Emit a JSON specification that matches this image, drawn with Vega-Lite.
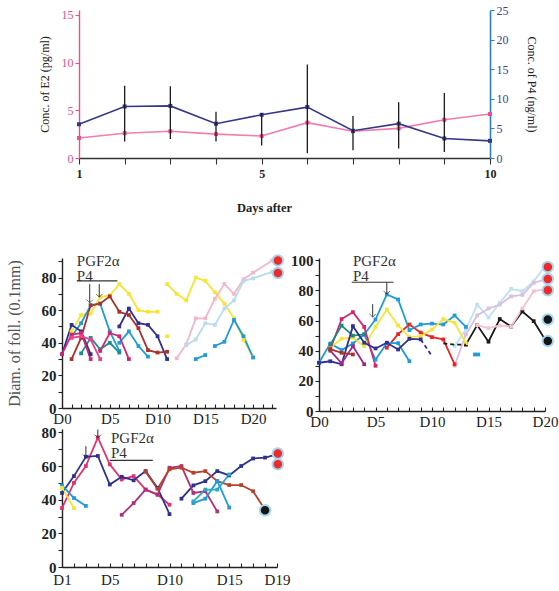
{
  "$schema": "https://vega.github.io/schema/vega-lite/v6.json",
  "background": "white",
  "padding": {"left": 5, "top": 4, "right": 2, "bottom": 2},
  "config": {
    "view": {"stroke": null},
    "font": "Liberation Serif",
    "axis": {
      "grid": false,
      "labelFont": "Liberation Serif",
      "titleFont": "Liberation Serif",
      "labelColor": "#222",
      "titleColor": "#222",
      "domainColor": "#222",
      "tickColor": "#222",
      "domainWidth": 1.4,
      "tickWidth": 1.1,
      "labelOverlap": false,
      "labelFlush": false
    }
  },
  "datasets": {
    "hormones": [
      {"day": 1, "e2": 2.1, "p4": 5.7},
      {"day": 2, "e2": 2.6, "p4": 8.7},
      {"day": 3, "e2": 2.8, "p4": 8.8},
      {"day": 4, "e2": 2.5, "p4": 5.8},
      {"day": 5, "e2": 2.3, "p4": 7.3},
      {"day": 6, "e2": 3.7, "p4": 8.6},
      {"day": 7, "e2": 2.8, "p4": 4.6},
      {"day": 8, "e2": 3.1, "p4": 5.8},
      {"day": 9, "e2": 4.0, "p4": 3.3},
      {"day": 10, "e2": 4.6, "p4": 2.9}
    ],
    "p4err": [
      {"day": 2, "lo": 2.8, "hi": 12.2},
      {"day": 3, "lo": 3.2, "hi": 12.1},
      {"day": 4, "lo": 2.8, "hi": 7.8},
      {"day": 5, "lo": 2.1, "hi": 7.6},
      {"day": 6, "lo": 0.8, "hi": 15.8},
      {"day": 7, "lo": 1.3, "hi": 7.1},
      {"day": 8, "lo": 1.6, "hi": 9.4},
      {"day": 9, "lo": 1.0, "hi": 11.0}
    ],
    "follA": [
      {"f": "A1", "w": "A1a", "day": 1, "mm": 47}, {"f": "A1", "w": "A1a", "day": 2, "mm": 57}, {"f": "A1", "w": "A1a", "day": 3, "mm": 58}, {"f": "A1", "w": "A1a", "day": 4, "mm": 68}, {"f": "A1", "w": "A1a", "day": 5, "mm": 69}, {"f": "A1", "w": "A1a", "day": 6, "mm": 76}, {"f": "A1", "w": "A1a", "day": 7, "mm": 70}, {"f": "A1", "w": "A1a", "day": 8, "mm": 60}, {"f": "A1", "w": "A1a", "day": 9, "mm": 59}, {"f": "A1", "w": "A1a", "day": 10, "mm": 59},
      {"f": "A1", "w": "A1b", "day": 11, "mm": 44},
      {"f": "A1", "w": "A1c", "day": 11, "mm": 76}, {"f": "A1", "w": "A1c", "day": 12, "mm": 70}, {"f": "A1", "w": "A1c", "day": 13, "mm": 66}, {"f": "A1", "w": "A1c", "day": 14, "mm": 80}, {"f": "A1", "w": "A1c", "day": 15, "mm": 78}, {"f": "A1", "w": "A1c", "day": 16, "mm": 71}, {"f": "A1", "w": "A1c", "day": 17, "mm": 64}, {"f": "A1", "w": "A1c", "day": 18, "mm": 55}, {"f": "A1", "w": "A1c", "day": 19, "mm": 42}, {"f": "A1", "w": "A1c", "day": 20, "mm": 31},
      {"f": "A2", "w": "A2a", "day": 1, "mm": 44}, {"f": "A2", "w": "A2a", "day": 2, "mm": 52}, {"f": "A2", "w": "A2a", "day": 3, "mm": 63}, {"f": "A2", "w": "A2a", "day": 4, "mm": 64}, {"f": "A2", "w": "A2a", "day": 5, "mm": 47}, {"f": "A2", "w": "A2a", "day": 6, "mm": 35},
      {"f": "A2", "w": "A2b", "day": 6, "mm": 40}, {"f": "A2", "w": "A2b", "day": 7, "mm": 47}, {"f": "A2", "w": "A2b", "day": 8, "mm": 38}, {"f": "A2", "w": "A2b", "day": 9, "mm": 31.5},
      {"f": "A2", "w": "A2c", "day": 14, "mm": 30}, {"f": "A2", "w": "A2c", "day": 15, "mm": 32.5},
      {"f": "A2", "w": "A2d", "day": 16, "mm": 38}, {"f": "A2", "w": "A2d", "day": 17, "mm": 40.6}, {"f": "A2", "w": "A2d", "day": 18, "mm": 54}, {"f": "A2", "w": "A2d", "day": 19, "mm": 44}, {"f": "A2", "w": "A2d", "day": 20, "mm": 31},
      {"f": "A3", "w": "A3a", "day": 2, "mm": 33.5}, {"f": "A3", "w": "A3a", "day": 3, "mm": 43}, {"f": "A3", "w": "A3a", "day": 4, "mm": 36}, {"f": "A3", "w": "A3a", "day": 5, "mm": 40}, {"f": "A3", "w": "A3a", "day": 6, "mm": 34},
      {"f": "A4", "w": "A4a", "day": 0, "mm": 33}, {"f": "A4", "w": "A4a", "day": 1, "mm": 51}, {"f": "A4", "w": "A4a", "day": 2, "mm": 47}, {"f": "A4", "w": "A4a", "day": 3, "mm": 33},
      {"f": "A4", "w": "A4b", "day": 6, "mm": 50}, {"f": "A4", "w": "A4b", "day": 7, "mm": 61}, {"f": "A4", "w": "A4b", "day": 8, "mm": 52}, {"f": "A4", "w": "A4b", "day": 9, "mm": 51}, {"f": "A4", "w": "A4b", "day": 10, "mm": 44}, {"f": "A4", "w": "A4b", "day": 11, "mm": 30},
      {"f": "A5", "w": "A5a", "day": 1, "mm": 30}, {"f": "A5", "w": "A5a", "day": 2, "mm": 43}, {"f": "A5", "w": "A5a", "day": 3, "mm": 63}, {"f": "A5", "w": "A5a", "day": 4, "mm": 64}, {"f": "A5", "w": "A5a", "day": 5, "mm": 68.5}, {"f": "A5", "w": "A5a", "day": 6, "mm": 59}, {"f": "A5", "w": "A5a", "day": 7, "mm": 57}, {"f": "A5", "w": "A5a", "day": 8, "mm": 49}, {"f": "A5", "w": "A5a", "day": 9, "mm": 35.5}, {"f": "A5", "w": "A5a", "day": 10, "mm": 34}, {"f": "A5", "w": "A5a", "day": 11, "mm": 34.5},
      {"f": "A6", "w": "A6a", "day": 0, "mm": 33}, {"f": "A6", "w": "A6a", "day": 1, "mm": 45}, {"f": "A6", "w": "A6a", "day": 2, "mm": 46}, {"f": "A6", "w": "A6a", "day": 3, "mm": 30},
      {"f": "A6", "w": "A6b", "day": 4, "mm": 35}, {"f": "A6", "w": "A6b", "day": 5, "mm": 46}, {"f": "A6", "w": "A6b", "day": 6, "mm": 44}, {"f": "A6", "w": "A6b", "day": 7, "mm": 30},
      {"f": "A7", "w": "A7a", "day": 1, "mm": 43}, {"f": "A7", "w": "A7a", "day": 2, "mm": 44}, {"f": "A7", "w": "A7a", "day": 3, "mm": 42}, {"f": "A7", "w": "A7a", "day": 4, "mm": 30},
      {"f": "A8", "w": "A8a", "day": 12, "mm": 30.5}, {"f": "A8", "w": "A8a", "day": 13, "mm": 39}, {"f": "A8", "w": "A8a", "day": 14, "mm": 55}, {"f": "A8", "w": "A8a", "day": 15, "mm": 55}, {"f": "A8", "w": "A8a", "day": 16, "mm": 67}, {"f": "A8", "w": "A8a", "day": 17, "mm": 76}, {"f": "A8", "w": "A8a", "day": 18, "mm": 70}, {"f": "A8", "w": "A8a", "day": 19, "mm": 79}, {"f": "A8", "w": "A8a", "day": 20, "mm": 83}, {"f": "A8", "w": "A8a", "day": 22, "mm": 90.5},
      {"f": "A9", "w": "A9a", "day": 13, "mm": 38.5}, {"f": "A9", "w": "A9a", "day": 14, "mm": 42}, {"f": "A9", "w": "A9a", "day": 15, "mm": 52}, {"f": "A9", "w": "A9a", "day": 16, "mm": 51}, {"f": "A9", "w": "A9a", "day": 17, "mm": 61}, {"f": "A9", "w": "A9a", "day": 18, "mm": 66}, {"f": "A9", "w": "A9a", "day": 19, "mm": 78}, {"f": "A9", "w": "A9a", "day": 20, "mm": 79.5}, {"f": "A9", "w": "A9a", "day": 22, "mm": 83.5}
    ],
    "fateA": [
      {"day": 22.6, "mm": 90.5, "fate": "ovulated"},
      {"day": 22.6, "mm": 82.8, "fate": "ovulated"}
    ],
    "noteA": [
      {"day": 1.55, "mm": 90.2, "note": "PGF2α"},
      {"day": 1.55, "mm": 81, "note": "P4"}
    ],
    "barA": [{"day": 1.55, "day2": 5.8, "mm": 78}],
    "arrowA": [
      {"day": 2.9, "mm": 64.5, "top": 76},
      {"day": 3.9, "mm": 68, "top": 76}
    ],
    "follB": [
      {"f": "B1", "w": "B1b", "day": 13, "mm": 44}, {"f": "B1", "w": "B1b", "day": 14, "mm": 57}, {"f": "B1", "w": "B1b", "day": 15, "mm": 46}, {"f": "B1", "w": "B1b", "day": 16, "mm": 61}, {"f": "B1", "w": "B1b", "day": 17, "mm": 56}, {"f": "B1", "w": "B1b", "day": 18, "mm": 66}, {"f": "B1", "w": "B1b", "day": 19, "mm": 59.6}, {"f": "B1", "w": "B1b", "day": 20, "mm": 47.5},
      {"f": "B2", "w": "B2a", "day": 12, "mm": 43}, {"f": "B2", "w": "B2a", "day": 13, "mm": 54}, {"f": "B2", "w": "B2a", "day": 14, "mm": 70.6}, {"f": "B2", "w": "B2a", "day": 15, "mm": 62}, {"f": "B2", "w": "B2a", "day": 16, "mm": 71.7}, {"f": "B2", "w": "B2a", "day": 17, "mm": 81}, {"f": "B2", "w": "B2a", "day": 18, "mm": 79.5}, {"f": "B2", "w": "B2a", "day": 19, "mm": 86}, {"f": "B2", "w": "B2a", "day": 20, "mm": 96},
      {"f": "B3", "w": "B3a", "day": 12, "mm": 30}, {"f": "B3", "w": "B3a", "day": 13, "mm": 50.8}, {"f": "B3", "w": "B3a", "day": 14, "mm": 63.4}, {"f": "B3", "w": "B3a", "day": 15, "mm": 68}, {"f": "B3", "w": "B3a", "day": 16, "mm": 70.6}, {"f": "B3", "w": "B3a", "day": 17, "mm": 76}, {"f": "B3", "w": "B3a", "day": 18, "mm": 77}, {"f": "B3", "w": "B3a", "day": 19, "mm": 85}, {"f": "B3", "w": "B3a", "day": 20, "mm": 87.2},
      {"f": "B4", "w": "B4a", "day": 14, "mm": 57}, {"f": "B4", "w": "B4a", "day": 15, "mm": 55}, {"f": "B4", "w": "B4a", "day": 16, "mm": 56.7}, {"f": "B4", "w": "B4a", "day": 17, "mm": 56}, {"f": "B4", "w": "B4a", "day": 18, "mm": 68}, {"f": "B4", "w": "B4a", "day": 19, "mm": 79.5}, {"f": "B4", "w": "B4a", "day": 20, "mm": 80.6},
      {"f": "B5", "w": "B5a", "day": 6, "mm": 42}, {"f": "B5", "w": "B5a", "day": 7, "mm": 51}, {"f": "B5", "w": "B5a", "day": 8, "mm": 57.4}, {"f": "B5", "w": "B5a", "day": 9, "mm": 52}, {"f": "B5", "w": "B5a", "day": 10, "mm": 49}, {"f": "B5", "w": "B5a", "day": 11, "mm": 47.5}, {"f": "B5", "w": "B5a", "day": 12, "mm": 31},
      {"f": "B6", "w": "B6a", "day": 0, "mm": 32}, {"f": "B6", "w": "B6a", "day": 1, "mm": 44.8}, {"f": "B6", "w": "B6a", "day": 2, "mm": 40.4}, {"f": "B6", "w": "B6a", "day": 3, "mm": 44.8}, {"f": "B6", "w": "B6a", "day": 4, "mm": 50.8}, {"f": "B6", "w": "B6a", "day": 5, "mm": 60.7}, {"f": "B6", "w": "B6a", "day": 6, "mm": 77.3}, {"f": "B6", "w": "B6a", "day": 7, "mm": 74}, {"f": "B6", "w": "B6a", "day": 8, "mm": 53.6}, {"f": "B6", "w": "B6a", "day": 9, "mm": 57.4}, {"f": "B6", "w": "B6a", "day": 10, "mm": 58}, {"f": "B6", "w": "B6a", "day": 11, "mm": 57.4}, {"f": "B6", "w": "B6a", "day": 12, "mm": 63.4}, {"f": "B6", "w": "B6a", "day": 13, "mm": 55.8},
      {"f": "B6", "w": "B6b", "day": 4, "mm": 50.8}, {"f": "B6", "w": "B6b", "day": 5, "mm": 34}, {"f": "B6", "w": "B6b", "day": 6, "mm": 45}, {"f": "B6", "w": "B6b", "day": 7, "mm": 45}, {"f": "B6", "w": "B6b", "day": 8, "mm": 33},
      {"f": "B6", "w": "B6c", "day": 13.8, "mm": 37.5}, {"f": "B6", "w": "B6c", "day": 14.1, "mm": 37.5},
      {"f": "B7", "w": "B7a", "day": 1, "mm": 42}, {"f": "B7", "w": "B7a", "day": 2, "mm": 48}, {"f": "B7", "w": "B7a", "day": 3, "mm": 48.6}, {"f": "B7", "w": "B7a", "day": 4, "mm": 43}, {"f": "B7", "w": "B7a", "day": 5, "mm": 55.8}, {"f": "B7", "w": "B7a", "day": 6, "mm": 67.3}, {"f": "B7", "w": "B7a", "day": 7, "mm": 56.7}, {"f": "B7", "w": "B7a", "day": 8, "mm": 49}, {"f": "B7", "w": "B7a", "day": 9, "mm": 49.7}, {"f": "B7", "w": "B7a", "day": 10, "mm": 54}, {"f": "B7", "w": "B7a", "day": 11, "mm": 61}, {"f": "B7", "w": "B7a", "day": 12, "mm": 58.5}, {"f": "B7", "w": "B7a", "day": 13, "mm": 45},
      {"f": "B8", "w": "B8a", "day": 1, "mm": 41}, {"f": "B8", "w": "B8a", "day": 2, "mm": 61}, {"f": "B8", "w": "B8a", "day": 3, "mm": 65.6}, {"f": "B8", "w": "B8a", "day": 4, "mm": 55.8}, {"f": "B8", "w": "B8a", "day": 5, "mm": 30},
      {"f": "B9", "w": "B9a", "day": 1, "mm": 44}, {"f": "B9", "w": "B9a", "day": 2, "mm": 56.7}, {"f": "B9", "w": "B9a", "day": 3, "mm": 50}, {"f": "B9", "w": "B9a", "day": 4, "mm": 50.8},
      {"f": "B10", "w": "B10a", "day": 0, "mm": 32}, {"f": "B10", "w": "B10a", "day": 1, "mm": 33}, {"f": "B10", "w": "B10a", "day": 2, "mm": 31}, {"f": "B10", "w": "B10a", "day": 3, "mm": 56.3}, {"f": "B10", "w": "B10a", "day": 4, "mm": 45.3}, {"f": "B10", "w": "B10a", "day": 5, "mm": 41.5}, {"f": "B10", "w": "B10a", "day": 6, "mm": 45.3}, {"f": "B10", "w": "B10a", "day": 7, "mm": 40.8}, {"f": "B10", "w": "B10a", "day": 8, "mm": 47.9}, {"f": "B10", "w": "B10a", "day": 9, "mm": 47.5},
      {"f": "B11", "w": "B11a", "day": 1, "mm": 40}, {"f": "B11", "w": "B11a", "day": 2, "mm": 31.6}, {"f": "B11", "w": "B11a", "day": 3, "mm": 43}, {"f": "B11", "w": "B11a", "day": 4, "mm": 31},
      {"f": "B12", "w": "B12a", "day": 1, "mm": 41}, {"f": "B12", "w": "B12a", "day": 2, "mm": 38.6}, {"f": "B12", "w": "B12a", "day": 3, "mm": 37.5}
    ],
    "follBdash": [
      {"f": "B1", "w": "B1a", "day": 11, "mm": 44.8}, {"f": "B1", "w": "B1a", "day": 12, "mm": 44}, {"f": "B1", "w": "B1a", "day": 13, "mm": 44},
      {"f": "B10", "w": "B10b", "day": 9, "mm": 47.5}, {"f": "B10", "w": "B10b", "day": 10, "mm": 36.4}
    ],
    "fateB": [
      {"day": 20.25, "mm": 95.6, "fate": "ovulated"},
      {"day": 20.25, "mm": 87.6, "fate": "ovulated"},
      {"day": 20.25, "mm": 80.1, "fate": "ovulated"},
      {"day": 20.25, "mm": 60.7, "fate": "atretic"},
      {"day": 20.25, "mm": 46.4, "fate": "atretic"}
    ],
    "noteB": [
      {"day": 3.0, "mm": 99.3, "note": "PGF2α"},
      {"day": 3.0, "mm": 89.4, "note": "P4"}
    ],
    "barB": [{"day": 2.9, "day2": 6.6, "mm": 85.4}],
    "arrowB": [
      {"day": 4.75, "mm": 62.3, "top": 70.9},
      {"day": 6.0, "mm": 77.5, "top": 85.4}
    ],
    "follC": [
      {"f": "C1", "w": "C1a", "day": 1, "mm": 35}, {"f": "C1", "w": "C1a", "day": 2, "mm": 50}, {"f": "C1", "w": "C1a", "day": 3, "mm": 60}, {"f": "C1", "w": "C1a", "day": 4, "mm": 77}, {"f": "C1", "w": "C1a", "day": 5, "mm": 61}, {"f": "C1", "w": "C1a", "day": 6, "mm": 52}, {"f": "C1", "w": "C1a", "day": 7, "mm": 54}, {"f": "C1", "w": "C1a", "day": 8, "mm": 46}, {"f": "C1", "w": "C1a", "day": 9, "mm": 43}, {"f": "C1", "w": "C1a", "day": 10, "mm": 37},
      {"f": "C2", "w": "C2a", "day": 1, "mm": 44}, {"f": "C2", "w": "C2a", "day": 2, "mm": 54}, {"f": "C2", "w": "C2a", "day": 3, "mm": 65.5}, {"f": "C2", "w": "C2a", "day": 4, "mm": 66}, {"f": "C2", "w": "C2a", "day": 5, "mm": 49}, {"f": "C2", "w": "C2a", "day": 6, "mm": 53.6}, {"f": "C2", "w": "C2a", "day": 7, "mm": 51.5}, {"f": "C2", "w": "C2a", "day": 8, "mm": 57}, {"f": "C2", "w": "C2a", "day": 9, "mm": 47}, {"f": "C2", "w": "C2a", "day": 10, "mm": 31.4},
      {"f": "C2", "w": "C2b", "day": 11, "mm": 40.6}, {"f": "C2", "w": "C2b", "day": 12, "mm": 48.5}, {"f": "C2", "w": "C2b", "day": 13, "mm": 51}, {"f": "C2", "w": "C2b", "day": 14, "mm": 57}, {"f": "C2", "w": "C2b", "day": 15, "mm": 54.4}, {"f": "C2", "w": "C2b", "day": 16, "mm": 60}, {"f": "C2", "w": "C2b", "day": 17, "mm": 64.5}, {"f": "C2", "w": "C2b", "day": 18, "mm": 65}, {"f": "C2", "w": "C2b", "day": 19, "mm": 66.9},
      {"f": "C3", "w": "C3a", "day": 6, "mm": 31}, {"f": "C3", "w": "C3a", "day": 7, "mm": 38}, {"f": "C3", "w": "C3a", "day": 8, "mm": 46}, {"f": "C3", "w": "C3a", "day": 9, "mm": 43}, {"f": "C3", "w": "C3a", "day": 10, "mm": 59}, {"f": "C3", "w": "C3a", "day": 11, "mm": 60}, {"f": "C3", "w": "C3a", "day": 12, "mm": 44}, {"f": "C3", "w": "C3a", "day": 13, "mm": 45}, {"f": "C3", "w": "C3a", "day": 14, "mm": 33},
      {"f": "C4", "w": "C4a", "day": 8, "mm": 56.6}, {"f": "C4", "w": "C4a", "day": 9, "mm": 46.5}, {"f": "C4", "w": "C4a", "day": 10, "mm": 58}, {"f": "C4", "w": "C4a", "day": 11, "mm": 59}, {"f": "C4", "w": "C4a", "day": 12, "mm": 56}, {"f": "C4", "w": "C4a", "day": 13, "mm": 57}, {"f": "C4", "w": "C4a", "day": 14, "mm": 51}, {"f": "C4", "w": "C4a", "day": 15, "mm": 48.7}, {"f": "C4", "w": "C4a", "day": 16, "mm": 48.7}, {"f": "C4", "w": "C4a", "day": 17, "mm": 45}, {"f": "C4", "w": "C4a", "day": 18, "mm": 34},
      {"f": "C5", "w": "C5a", "day": 1, "mm": 48.5}, {"f": "C5", "w": "C5a", "day": 2, "mm": 41}, {"f": "C5", "w": "C5a", "day": 3, "mm": 36.3},
      {"f": "C5", "w": "C5b", "day": 12, "mm": 38}, {"f": "C5", "w": "C5b", "day": 13, "mm": 40.6}, {"f": "C5", "w": "C5b", "day": 14, "mm": 51}, {"f": "C5", "w": "C5b", "day": 15, "mm": 35.3},
      {"f": "C6", "w": "C6a", "day": 1, "mm": 47}, {"f": "C6", "w": "C6a", "day": 2, "mm": 35},
      {"f": "C7", "w": "C7a", "day": 12, "mm": 39}, {"f": "C7", "w": "C7a", "day": 13, "mm": 46}, {"f": "C7", "w": "C7a", "day": 14, "mm": 46}, {"f": "C7", "w": "C7a", "day": 15, "mm": 55}
    ],
    "fateC": [
      {"day": 18, "mm": 33.7, "fate": "atretic"},
      {"day": 19.07, "mm": 67.5, "fate": "ovulated"},
      {"day": 19.07, "mm": 61, "fate": "ovulated"}
    ],
    "noteC": [
      {"day": 5.1, "mm": 76.4, "note": "PGF2α"},
      {"day": 5.1, "mm": 67.6, "note": "P4"}
    ],
    "barC": [{"day": 5.0, "day2": 8.6, "mm": 63.4}],
    "arrowC": [
      {"day": 3.0, "mm": 65, "top": 71.8},
      {"day": 4.0, "mm": 76.7, "top": 81.7}
    ]
  },
  "bounds": "flush",
  "spacing": 100,
  "resolve": {"scale": {"color": "independent"}},
  "vconcat": [
    {
      "width": 428,
      "height": 148,
      "encoding": {
        "x": {
          "field": "day", "type": "quantitative",
          "scale": {"domain": [1, 10], "range": [17, 428], "nice": false, "zero": false},
          "axis": {
            "values": [1, 2, 3, 4, 5, 6, 7, 8, 9, 10],
            "labelExpr": "datum.value == 1 || datum.value == 5 || datum.value == 10 ? datum.label : ''",
            "title": "Days after", "titleX": 202, "titlePadding": 22,
            "titleFontSize": 12.5, "titleFontWeight": "bold",
            "labelFontSize": 12, "labelFontWeight": "bold", "labelPadding": 4,
            "tickSize": 6, "domainColor": "#333", "tickColor": "#333"
          }
        }
      },
      "layer": [
        {
          "data": {"name": "hormones"},
          "mark": {"type": "line", "color": "#f27cae", "strokeWidth": 1.6, "point": {"filled": true, "size": 16, "shape": "square", "color": "#e8518e"}},
          "encoding": {
            "y": {
              "field": "e2", "type": "quantitative",
              "scale": {"domain": [0, 15.5], "nice": false},
              "axis": {
                "orient": "left", "offset": -17, "values": [0, 5, 10, 15],
                "title": "Conc. of E2 (pg/ml)", "titleFontSize": 12, "titleFontWeight": "normal", "titlePadding": 10,
                "labelColor": "#e3528c", "labelFontSize": 12,
                "domainColor": "#e8508a", "tickColor": "#e8508a", "tickSize": 4
              }
            }
          }
        },
        {
          "layer": [
            {
              "data": {"name": "hormones"},
              "mark": {"type": "line", "color": "#34398a", "strokeWidth": 1.6, "point": {"filled": true, "size": 16, "shape": "square", "color": "#34398a"}},
              "encoding": {
                "y": {
                  "field": "p4", "type": "quantitative",
                  "scale": {"domain": [0, 25], "nice": false},
                  "axis": {
                    "orient": "right", "values": [0, 5, 10, 15, 20, 25],
                    "title": "Conc. of P4 (ng/ml)", "titleFontSize": 12, "titleFontWeight": "normal", "titlePadding": 16,
                    "labelColor": "#3b4683", "labelFontSize": 12,
                    "domainColor": "#2f80c3", "tickColor": "#2f80c3", "tickSize": 4, "domainWidth": 1.6
                  }
                }
              }
            },
            {
              "data": {"name": "p4err"},
              "mark": {"type": "rule", "color": "#1a1a1a", "strokeWidth": 1.3},
              "encoding": {
                "y": {
                  "field": "lo", "type": "quantitative",
                  "axis": {
                    "orient": "right", "values": [0, 5, 10, 15, 20, 25],
                    "title": "Conc. of P4 (ng/ml)", "titleFontSize": 12, "titleFontWeight": "normal", "titlePadding": 16,
                    "labelColor": "#3b4683", "labelFontSize": 12,
                    "domainColor": "#2f80c3", "tickColor": "#2f80c3", "tickSize": 4, "domainWidth": 1.6
                  }
                },
                "y2": {"field": "hi"}
              }
            }
          ]
        }
      ],
      "resolve": {"scale": {"y": "independent"}}
    },
    {
      "bounds": "flush",
      "columns": 2,
      "spacing": {"row": 18, "column": 42},
      "resolve": {"scale": {"color": "independent"}},
      "concat": [
        {
          "width": 214,
          "height": 150,
          "encoding": {
            "x": {
              "field": "day", "type": "quantitative",
              "scale": {"domain": [0, 22.4], "nice": false, "zero": false},
              "axis": {
                "values": [0, 1, 2, 3, 4, 5, 6, 7, 8, 9, 10, 11, 12, 13, 14, 15, 16, 17, 18, 19, 20, 21, 22],
                "labelExpr": "datum.value % 5 == 0 ? 'D' + datum.value : ''",
                "title": null, "tickSize": -4, "labelPadding": 7, "labelFontSize": 15
              }
            },
            "y": {
              "field": "mm", "type": "quantitative",
              "scale": {"domain": [0, 92], "nice": false},
              "axis": {
                "values": [0, 10, 20, 30, 40, 50, 60, 70, 80, 90],
                "labelExpr": "datum.value % 20 == 0 ? datum.label : ''",
                "title": "Diam. of foll. (0.1mm)", "titleFontSize": 16, "titleFontWeight": "normal", "titleColor": "#555", "titlePadding": 19,
                "labelFontSize": 15, "labelFontWeight": "bold", "tickSize": 4
              }
            }
          },
          "layer": [
            {
              "data": {"name": "follA"},
              "mark": {"type": "line", "strokeWidth": 1.8, "point": {"filled": true, "size": 14, "shape": "square"}},
              "encoding": {
                "color": {
                  "field": "f", "type": "nominal", "legend": null,
                  "scale": {
                    "domain": ["A1", "A2", "A3", "A4", "A5", "A6", "A7", "A8", "A9"],
                    "range": ["#f7e531", "#1f9bd7", "#1c8c93", "#2f3190", "#a9322a", "#d4256f", "#e8428f", "#f4b7c9", "#b9dbef"]
                  }
                },
                "detail": {"field": "w"}
              }
            },
            {
              "data": {"name": "noteA"},
              "mark": {"type": "text", "align": "left", "baseline": "middle", "fontSize": 15, "color": "#333"},
              "encoding": {"text": {"field": "note"}}
            },
            {
              "data": {"name": "barA"},
              "mark": {"type": "rule", "color": "#333", "strokeWidth": 1.2},
              "encoding": {"x2": {"field": "day2"}}
            },
            {
              "data": {"name": "arrowA"},
              "mark": {"type": "rule", "color": "#333", "strokeWidth": 1},
              "encoding": {"y2": {"field": "top"}}
            },
            {
              "data": {"name": "arrowA"},
              "mark": {"type": "point", "shape": "M-1,-1L0,0L1,-1", "size": 40, "stroke": "#333", "strokeWidth": 1, "filled": false}
            },
            {
              "data": {"name": "fateA"},
              "mark": {"type": "point", "filled": true, "size": 110, "stroke": "#a6d5ef", "strokeWidth": 2, "opacity": 1},
              "encoding": {
                "fill": {"field": "fate", "type": "nominal", "legend": null, "scale": {"domain": ["ovulated", "atretic"], "range": ["#ee2a2a", "#151515"]}}
              }
            }
          ]
        },
        {
          "width": 226,
          "height": 153,
          "encoding": {
            "x": {
              "field": "day", "type": "quantitative",
              "scale": {"domain": [0, 20], "nice": false, "zero": false},
              "axis": {
                "values": [0, 1, 2, 3, 4, 5, 6, 7, 8, 9, 10, 11, 12, 13, 14, 15, 16, 17, 18, 19, 20],
                "labelExpr": "datum.value % 5 == 0 ? 'D' + datum.value : ''",
                "title": null, "tickSize": -4, "labelPadding": 7, "labelFontSize": 15
              }
            },
            "y": {
              "field": "mm", "type": "quantitative",
              "scale": {"domain": [0, 101.5], "nice": false},
              "axis": {
                "values": [0, 10, 20, 30, 40, 50, 60, 70, 80, 90, 100],
                "labelExpr": "datum.value % 20 == 0 ? datum.label : ''",
                "title": null, "labelFontSize": 15, "labelFontWeight": "bold", "tickSize": 4
              }
            }
          },
          "layer": [
            {
              "data": {"name": "follB"},
              "mark": {"type": "line", "strokeWidth": 1.8, "point": {"filled": true, "size": 14, "shape": "square"}},
              "encoding": {
                "color": {
                  "field": "f", "type": "nominal", "legend": null,
                  "scale": {
                    "domain": ["B1", "B2", "B3", "B4", "B5", "B6", "B7", "B8", "B9", "B10", "B11", "B12"],
                    "range": ["#1a1a1a", "#bfe0f2", "#d9bfe0", "#f2c4d2", "#e8271f", "#1f9bd7", "#f5e43a", "#d4256f", "#1c8c7a", "#2f3190", "#9b2a8c", "#a9322a"]
                  }
                },
                "detail": {"field": "w"}
              }
            },
            {
              "data": {"name": "follBdash"},
              "mark": {"type": "line", "strokeWidth": 1.8, "strokeDash": [4, 3]},
              "encoding": {
                "color": {"field": "f", "type": "nominal", "legend": null},
                "detail": {"field": "w"}
              }
            },
            {
              "data": {"name": "noteB"},
              "mark": {"type": "text", "align": "left", "baseline": "middle", "fontSize": 15, "color": "#333"},
              "encoding": {"text": {"field": "note"}}
            },
            {
              "data": {"name": "barB"},
              "mark": {"type": "rule", "color": "#333", "strokeWidth": 1.2},
              "encoding": {"x2": {"field": "day2"}}
            },
            {
              "data": {"name": "arrowB"},
              "mark": {"type": "rule", "color": "#333", "strokeWidth": 1},
              "encoding": {"y2": {"field": "top"}}
            },
            {
              "data": {"name": "arrowB"},
              "mark": {"type": "point", "shape": "M-1,-1L0,0L1,-1", "size": 40, "stroke": "#333", "strokeWidth": 1, "filled": false}
            },
            {
              "data": {"name": "fateB"},
              "mark": {"type": "point", "filled": true, "size": 110, "stroke": "#a6d5ef", "strokeWidth": 2, "opacity": 1},
              "encoding": {
                "fill": {"field": "fate", "type": "nominal", "legend": null, "scale": {"domain": ["ovulated", "atretic"], "range": ["#ee2a2a", "#151515"]}}
              }
            }
          ]
        },
        {
          "width": 215,
          "height": 138,
          "encoding": {
            "x": {
              "field": "day", "type": "quantitative",
              "scale": {"domain": [1, 19], "nice": false, "zero": false},
              "axis": {
                "values": [1, 2, 3, 4, 5, 6, 7, 8, 9, 10, 11, 12, 13, 14, 15, 16, 17, 18, 19],
                "labelExpr": "datum.value == 1 || datum.value == 19 || datum.value % 5 == 0 ? 'D' + datum.value : ''",
                "title": null, "tickSize": -4, "labelPadding": 9, "labelFontSize": 15
              }
            },
            "y": {
              "field": "mm", "type": "quantitative",
              "scale": {"domain": [0, 82], "nice": false},
              "axis": {
                "values": [0, 10, 20, 30, 40, 50, 60, 70, 80],
                "labelExpr": "datum.value % 20 == 0 ? datum.label : ''",
                "title": null, "labelFontSize": 15, "labelFontWeight": "bold", "tickSize": 4
              }
            }
          },
          "layer": [
            {
              "data": {"name": "follC"},
              "mark": {"type": "line", "strokeWidth": 1.8, "point": {"filled": true, "size": 14, "shape": "square"}},
              "encoding": {
                "color": {
                  "field": "f", "type": "nominal", "legend": null,
                  "scale": {
                    "domain": ["C1", "C2", "C3", "C4", "C5", "C6", "C7"],
                    "range": ["#e0306e", "#2f3190", "#b0307a", "#b5412a", "#1f9bd7", "#f5e43a", "#2aa9c9"]
                  }
                },
                "detail": {"field": "w"}
              }
            },
            {
              "data": {"name": "noteC"},
              "mark": {"type": "text", "align": "left", "baseline": "middle", "fontSize": 15, "color": "#333"},
              "encoding": {"text": {"field": "note"}}
            },
            {
              "data": {"name": "barC"},
              "mark": {"type": "rule", "color": "#333", "strokeWidth": 1.2},
              "encoding": {"x2": {"field": "day2"}}
            },
            {
              "data": {"name": "arrowC"},
              "mark": {"type": "rule", "color": "#333", "strokeWidth": 1},
              "encoding": {"y2": {"field": "top"}}
            },
            {
              "data": {"name": "arrowC"},
              "mark": {"type": "point", "shape": "M-1,-1L0,0L1,-1", "size": 40, "stroke": "#333", "strokeWidth": 1, "filled": false}
            },
            {
              "data": {"name": "fateC"},
              "mark": {"type": "point", "filled": true, "size": 110, "stroke": "#a6d5ef", "strokeWidth": 2, "opacity": 1},
              "encoding": {
                "fill": {"field": "fate", "type": "nominal", "legend": null, "scale": {"domain": ["ovulated", "atretic"], "range": ["#ee2a2a", "#151515"]}}
              }
            }
          ]
        }
      ]
    }
  ]
}
